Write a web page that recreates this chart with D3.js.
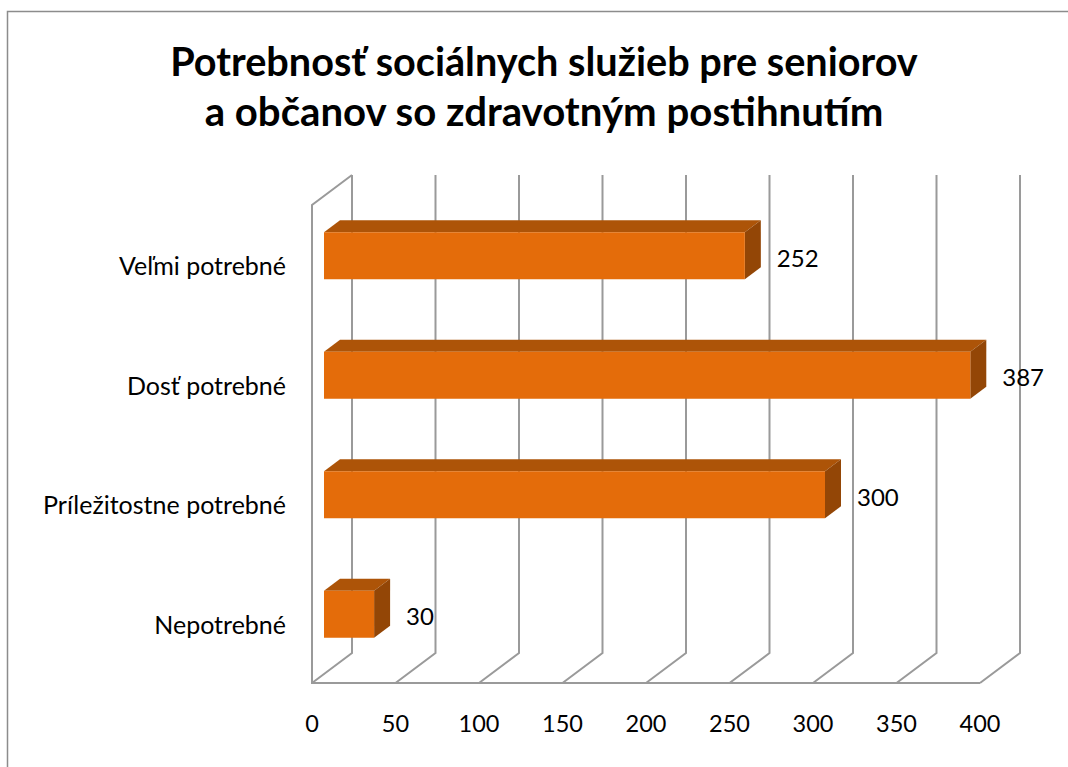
<!DOCTYPE html>
<html>
<head>
<meta charset="utf-8">
<script src="https://cdn.jsdelivr.net/npm/d3@7"></script>
<style>
  body { margin: 0; background: #fff; }
  text { font-family: Lato, "Open Sans", sans-serif; fill: #000; }
</style>
</head>
<body>
<div id="chart"></div>
<script>
const titleLines = ['Potrebnosť sociálnych služieb pre seniorov', 'a občanov so zdravotným postihnutím'];
const categories = ['Veľmi potrebné', 'Dosť potrebné', 'Príležitostne potrebné', 'Nepotrebné'];
const values = [252, 387, 300, 30];
const ticks = [0, 50, 100, 150, 200, 250, 300, 350, 400];

const width = 1068;
const height = 767;
// front plane of the 3d box
const plot = { left: 312, right: 980, top: 205, bottom: 683 };
const depth = { dx: 40, dy: -30 };
// bar sits between 30% and 70% of the depth
const barFront = 0.3;
const barDepth = 0.4;
const barThick = 47;

const colors = { front: '#e46c0a', top: '#ad5408', side: '#934606', grid: '#9a9a9a' };

const svg = d3.select('#chart').append('svg')
  .attr('width', width)
  .attr('height', height);

svg.append('rect')
  .attr('x', 7.5).attr('y', 11.5)
  .attr('width', width + 10).attr('height', height + 10)
  .attr('fill', '#fff')
  .attr('stroke', '#8c8c8c')
  .attr('stroke-width', 1.5);

const xScale = d3.scaleLinear().domain([0, 400]).range([plot.left, plot.right]);
const yScale = d3.scaleBand().domain(categories).range([plot.top, plot.bottom]);

// title
const title = svg.append('g');
const titleWidths = [748, 679];
titleLines.forEach((line, i) => {
  const t = title.append('text')
    .attr('x', 544)
    .attr('y', 76 + i * 50)
    .attr('text-anchor', 'middle')
    .attr('font-weight', 'bold')
    .attr('font-size', 36)
    .text(line);
  const w = t.node().getComputedTextLength();
  t.attr('font-size', 36 * titleWidths[i] / w);
});

// walls
const walls = svg.append('g')
  .attr('fill', 'none')
  .attr('stroke', colors.grid)
  .attr('stroke-width', 2);

walls.selectAll('.grid')
  .data(ticks)
  .enter().append('path')
  .attr('d', d => {
    const x = xScale(d);
    return `M${x},${plot.bottom}L${x + depth.dx},${plot.bottom + depth.dy}L${x + depth.dx},${plot.top + depth.dy}`;
  });

walls.append('path')
  .attr('d', `M${xScale(0) + depth.dx},${plot.top + depth.dy}L${xScale(0)},${plot.top}L${xScale(0)},${plot.bottom}L${xScale(400)},${plot.bottom}`);

// bars
const bars = svg.append('g').selectAll('.bar')
  .data(categories.map((c, i) => ({ cat: c, value: values[i] })))
  .enter().append('g')
  .attr('class', 'bar');

const ox = depth.dx * barFront;
const oy = depth.dy * barFront;
const bx = depth.dx * barDepth;
const by = depth.dy * barDepth;

function faceY(d) {
  return yScale(d.cat) + yScale.bandwidth() / 2 + oy;
}

bars.append('path')
  .attr('fill', colors.top)
  .attr('d', (d) => {
    const x0 = xScale(0) + ox;
    const x1 = xScale(d.value) + ox;
    const yt = faceY(d) - barThick / 2;
    return `M${x0},${yt}L${x0 + bx},${yt + by}L${x1 + bx},${yt + by}L${x1},${yt}Z`;
  });

bars.append('path')
  .attr('fill', colors.side)
  .attr('d', (d) => {
    const x1 = xScale(d.value) + ox;
    const yt = faceY(d) - barThick / 2;
    const yb = faceY(d) + barThick / 2;
    return `M${x1},${yt}L${x1 + bx},${yt + by}L${x1 + bx},${yb + by}L${x1},${yb}Z`;
  });

bars.append('rect')
  .attr('fill', colors.front)
  .attr('x', xScale(0) + ox)
  .attr('y', d => faceY(d) - barThick / 2)
  .attr('width', d => xScale(d.value) - xScale(0))
  .attr('height', barThick);

bars.append('text')
  .attr('x', d => xScale(d.value) + ox + 32)
  .attr('y', d => faceY(d) + 11)
  .attr('font-size', 24)
  .text(d => d.value);

// category labels
svg.append('g').selectAll('.cat')
  .data(categories)
  .enter().append('text')
  .attr('x', 286)
  .attr('y', d => yScale(d) + yScale.bandwidth() / 2 + 10.5)
  .attr('text-anchor', 'end')
  .attr('font-size', 25)
  .text(d => d);

// x tick labels
svg.append('g').selectAll('.tick')
  .data(ticks)
  .enter().append('text')
  .attr('x', d => xScale(d))
  .attr('y', 732)
  .attr('text-anchor', 'middle')
  .attr('font-size', 23.5)
  .text(d => d);
</script>
</body>
</html>
